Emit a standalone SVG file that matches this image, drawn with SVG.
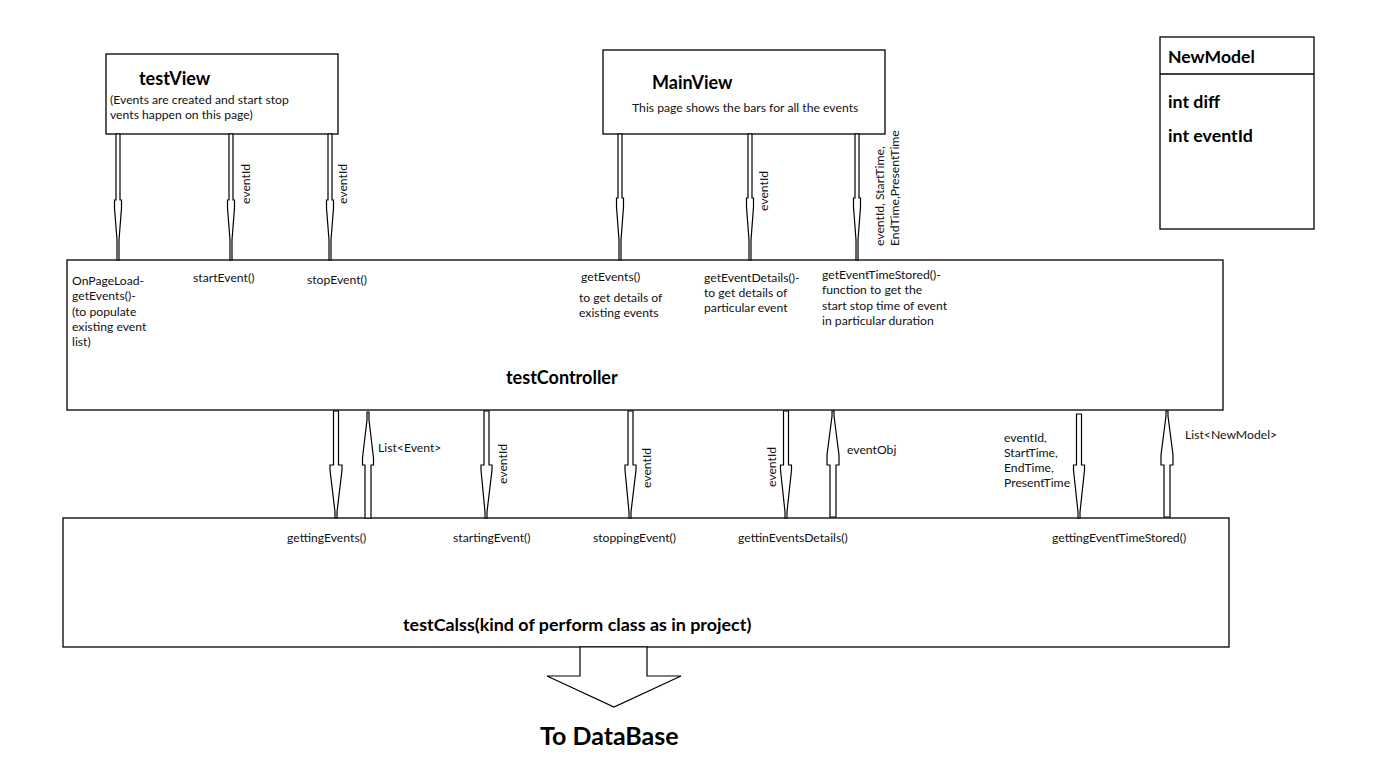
<svg xmlns="http://www.w3.org/2000/svg" width="1382" height="784" viewBox="0 0 1382 784">
<style>
.box{fill:#fff;stroke:#000;stroke-width:1.3}
.arr{fill:#fff;stroke:#000;stroke-width:1.2;stroke-linejoin:miter}
.t{font-family:Lato,"Liberation Sans",sans-serif;font-size:12.2px;fill:#111}
.b{font-family:Lato,"Liberation Sans",sans-serif;font-weight:bold;fill:#000}
</style>
<rect width="1382" height="784" fill="#fff"/>

<g id="testView">
<rect class="box" x="106" y="54" width="232" height="80"/>
<text class="b" x="139" y="85" font-size="18">testView</text>
<text class="t" x="110" y="104">(Events are created and start stop</text>
<text class="t" x="110" y="119">vents happen on this page)</text>
</g>

<g id="MainView">
<rect class="box" x="603" y="50" width="282" height="84"/>
<text class="b" x="652" y="89" font-size="18">MainView</text>
<text class="t" x="632" y="112">This page shows the bars for all the events</text>
</g>

<g id="NewModel">
<rect class="box" x="1160" y="37" width="154" height="192"/>
<line x1="1160" y1="74" x2="1314" y2="74" stroke="#000" stroke-width="1.3"/>
<text class="b" x="1168" y="63" font-size="17.6">NewModel</text>
<text class="b" x="1168" y="108" font-size="17.8">int diff</text>
<text class="b" x="1168" y="142" font-size="17.8">int eventId</text>
</g>

<g id="testController">
<rect class="box" x="67" y="260" width="1156" height="150"/>
<text class="t" x="72" y="285">OnPageLoad-</text>
<text class="t" x="72" y="300">getEvents()-</text>
<text class="t" x="72" y="316">(to populate</text>
<text class="t" x="72" y="331">existing event</text>
<text class="t" x="72" y="346">list)</text>
<text class="t" x="193" y="282">startEvent()</text>
<text class="t" x="307" y="284">stopEvent()</text>
<text class="t" x="581" y="281">getEvents()</text>
<text class="t" x="579" y="302">to get details of</text>
<text class="t" x="579" y="317">existing events</text>
<text class="t" x="704" y="282">getEventDetails()-</text>
<text class="t" x="704" y="297">to get details of</text>
<text class="t" x="704" y="312">particular event</text>
<text class="t" x="822" y="279">getEventTimeStored()-</text>
<text class="t" x="822" y="294">function to get the</text>
<text class="t" x="822" y="310">start stop time of event</text>
<text class="t" x="822" y="325">in particular duration</text>
<text class="b" x="506" y="384" font-size="18">testController</text>
</g>

<g id="testCalss">
<rect class="box" x="63" y="518" width="1166" height="129"/>
<text class="t" x="287" y="542">gettingEvents()</text>
<text class="t" x="453" y="542">startingEvent()</text>
<text class="t" x="593" y="542">stoppingEvent()</text>
<text class="t" x="738" y="542">gettinEventsDetails()</text>
<text class="t" x="1052" y="542">gettingEventTimeStored()</text>
<text class="b" x="403" y="631" font-size="17.9">testCalss(kind of perform class as in project)</text>
</g>

<g id="ToDataBase">
<polygon class="arr" points="580,647 647,647 647,676 681,676 614,707 547,676 580,676"/>
<text class="b" x="540" y="745" font-size="25">To DataBase</text>
</g>

<g id="connectors">
<g id="c1"><polygon class="arr" points="116,134 120,134 120,200 121.5,200 121.5,208 119,240 119,260 117,260 117,240 114.5,208 114.5,200 116,200"/></g>
<g id="c2"><polygon class="arr" points="229,134 233,134 233,200 234.5,200 234.5,208 232,240 232,260 230,260 230,240 227.5,208 227.5,200 229,200"/></g>
<g id="c3"><polygon class="arr" points="328,134 332,134 332,200 333.5,200 333.5,208 331,240 331,260 329,260 329,240 326.5,208 326.5,200 328,200"/></g>
<g id="c4"><polygon class="arr" points="618,134 622,134 622,198 623.5,198 623.5,207 621,240 621,260 619,260 619,240 616.5,207 616.5,198 618,198"/></g>
<g id="c5"><polygon class="arr" points="748,134 752,134 752,198 753.5,198 753.5,207 751,240 751,260 749,260 749,240 746.5,207 746.5,198 748,198"/></g>
<g id="c6"><polygon class="arr" points="855,134 859,134 859,198 860.5,198 860.5,207 858,240 858,260 856,260 856,240 853.5,207 853.5,198 855,198"/></g>
<text class="t" transform="translate(250,204) rotate(-90)">eventId</text>
<text class="t" transform="translate(347,204) rotate(-90)">eventId</text>
<text class="t" transform="translate(768,211) rotate(-90)">eventId</text>
<text class="t" transform="translate(884,246) rotate(-90)">eventId, StartTime,</text>
<text class="t" transform="translate(899,246) rotate(-90)">EndTime,PresentTime</text>

<g id="c7"><polygon class="arr" points="333.5,411 338.5,411 338.5,465 342,465 342,470 337,512 337,518 335,518 335,512 330,470 330,465 333.5,465"/></g>
<g id="c8"><polygon class="arr" points="365,518 371,518 371,465 373.5,465 373.5,458 369,420 369,412 367,412 367,420 362.5,458 362.5,465 365,465"/></g>
<g id="c9"><polygon class="arr" points="484,411 489,411 489,465 492,465 492,470 487,512 487,518 485,518 485,512 481,470 481,465 484,465"/></g>
<g id="c10"><polygon class="arr" points="628,411 633,411 633,465 636,465 636,470 631,512 631,518 629,518 629,512 625,470 625,465 628,465"/></g>
<g id="c11"><polygon class="arr" points="783.5,411 788.5,411 788.5,465 791.5,465 791.5,470 787,512 787,518 785,518 785,512 780.5,470 780.5,465 783.5,465"/></g>
<g id="c12"><polygon class="arr" points="830,517 836,517 836,465 839,465 839,455 834,416 834,411 832,411 832,416 827,455 827,465 830,465"/></g>
<g id="c13"><polygon class="arr" points="1076.5,414 1081.5,414 1081.5,465 1084.5,465 1084.5,470 1080,512 1080,518 1078,518 1078,512 1073.5,470 1073.5,465 1076.5,465"/></g>
<g id="c14"><polygon class="arr" points="1164,517 1170,517 1170,465 1173,465 1173,455 1168,416 1168,411 1166,411 1166,416 1161,455 1161,465 1164,465"/></g>
<text class="t" x="378" y="452">List&lt;Event&gt;</text>
<text class="t" transform="translate(507,484) rotate(-90)">eventId</text>
<text class="t" transform="translate(651,488) rotate(-90)">eventId</text>
<text class="t" transform="translate(776,487) rotate(-90)">eventId</text>
<text class="t" x="847" y="454">eventObj</text>
<text class="t" x="1004" y="442">eventId,</text>
<text class="t" x="1004" y="457">StartTime,</text>
<text class="t" x="1004" y="472">EndTime,</text>
<text class="t" x="1004" y="487">PresentTime</text>
<text class="t" x="1185" y="439">List&lt;NewModel&gt;</text>
</g>
</svg>
